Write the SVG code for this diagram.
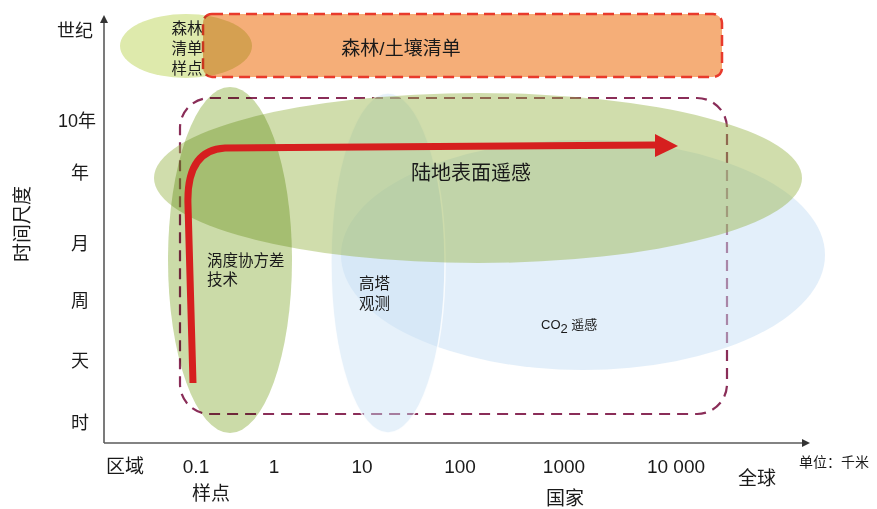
<svg xmlns="http://www.w3.org/2000/svg" width="877" height="509" viewBox="0 0 877 509">
<style>
text{font-family:"Liberation Sans","Noto Sans CJK SC",sans-serif;fill:#1a1a1a}
.lab{font-size:18px;text-anchor:middle}
.num{font-size:19px;text-anchor:middle}
.axis{stroke:#5a5a5a;stroke-width:1.6;fill:none}
.mul{mix-blend-mode:multiply}
</style>
<defs>
<marker id="ah" markerWidth="8" markerHeight="8" refX="6" refY="4" orient="auto" markerUnits="userSpaceOnUse">
<path d="M0,0 L8,4 L0,8 Z" fill="#333"/>
</marker>
</defs>
<rect width="877" height="509" fill="#fff"/>

<g id="forest-soil-inventory">
<rect x="203" y="14" width="519" height="63" rx="9" fill="#f5ae78" stroke="#e83a2c" stroke-width="2.5" stroke-dasharray="11 6"/>
<text x="401" y="55" style="font-size:19px;text-anchor:middle">森林/土壤清单</text>
</g>

<g id="inventory-plot">
<ellipse class="mul" cx="186" cy="46" rx="66" ry="32" fill="#deeaac"/>
<text x="187" y="34" class="lab" style="font-size:15.5px">森林</text>
<text x="187" y="54" class="lab" style="font-size:15.5px">清单</text>
<text x="187" y="74" class="lab" style="font-size:15.5px">样点</text>
</g>

<g id="scope-box">
<rect x="180" y="98" width="547" height="316" rx="30" fill="none" stroke="#8a2d58" stroke-width="2.2" stroke-dasharray="11 7"/>
</g>

<g id="co2-remote-sensing">
<ellipse cx="583" cy="255" rx="242" ry="115" fill="#c8e0f5" fill-opacity="0.5"/>
</g>

<g id="tower-obs">
<ellipse cx="388" cy="263" rx="57" ry="170" fill="#c8e0f5" fill-opacity="0.45" stroke="#fff" stroke-width="1.5" stroke-opacity="0.8"/>
</g>

<g id="land-surface-rs">
<ellipse cx="478" cy="178" rx="324" ry="85" fill="#96b446" fill-opacity="0.45"/>
</g>

<g id="eddy-covariance">
<ellipse class="mul" cx="230" cy="260" rx="62" ry="173" fill="#cbdba8"/>
</g>

<g id="connectors">
<path d="M193,383 L188,205 Q186,150 225,148 L655,145" fill="none" stroke="#d61f1f" stroke-width="7"/>
<path d="M655,134 L678,146 L655,157 Z" fill="#d61f1f"/>
<line x1="104" y1="443" x2="104" y2="17" class="axis" marker-end="url(#ah)"/>
<line x1="104" y1="443" x2="808" y2="443" class="axis" marker-end="url(#ah)"/>
</g>

<g id="labels">
<text x="471" y="180" style="font-size:20px;text-anchor:middle">陆地表面遥感</text>
<text x="207" y="266" style="font-size:15.5px">涡度协方差</text>
<text x="207" y="285" style="font-size:15.5px">技术</text>
<text x="359" y="289" style="font-size:15.5px">高塔</text>
<text x="359" y="309" style="font-size:15.5px">观测</text>
<text x="541" y="329" style="font-size:13px">CO<tspan dy="4" style="font-size:13px">2</tspan><tspan dy="-4"> 遥感</tspan></text>
</g>

<g id="y-axis-labels">
<text x="75" y="37" class="lab">世纪</text>
<text x="77" y="127" class="lab">10年</text>
<text x="80" y="179" class="lab">年</text>
<text x="80" y="250" class="lab">月</text>
<text x="80" y="307" class="lab">周</text>
<text x="80" y="367" class="lab">天</text>
<text x="80" y="429" class="lab">时</text>
<text transform="translate(29,224) rotate(-90)" style="font-size:19px;text-anchor:middle">时间尺度</text>
</g>

<g id="x-axis-labels">
<text x="125" y="473" class="lab" style="font-size:19px">区域</text>
<text x="196" y="473" class="num">0.1</text>
<text x="274" y="473" class="num">1</text>
<text x="362" y="473" class="num">10</text>
<text x="460" y="473" class="num">100</text>
<text x="564" y="473" class="num">1000</text>
<text x="676" y="473" class="num">10 000</text>
<text x="757" y="485" class="lab" style="font-size:19px">全球</text>
<text x="834" y="467" class="lab" style="font-size:14px">单位：千米</text>
<text x="211" y="500" class="lab" style="font-size:19px">样点</text>
<text x="565" y="505" class="lab" style="font-size:19px">国家</text>
</g>
</svg>
